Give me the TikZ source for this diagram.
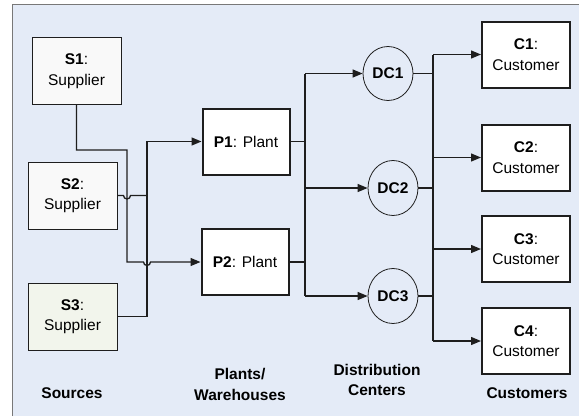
\documentclass[tikz,border=0pt]{standalone}
\usepackage{fontspec}
\setmainfont{Liberation Sans}
\usepackage{tikz}
\usetikzlibrary{arrows.meta,positioning,calc,shapes.geometric}
\usepackage{xcolor}
\definecolor{ink}{RGB}{30,30,30}
\definecolor{bg}{RGB}{228,235,247}
\definecolor{frm}{RGB}{120,120,120}
\definecolor{paper}{RGB}{249,249,249}
\definecolor{sage}{RGB}{242,245,236}
\tikzset{
  box/.style={draw=ink,align=center,inner sep=2pt,font=\fontsize{15.5}{20.5}\selectfont},
  src/.style={box,line width=0.8pt,fill=paper,minimum width=89pt,minimum height=67pt},
  plant/.style={box,line width=2pt,fill=white,minimum width=87pt,minimum height=66pt},
  cust/.style={box,line width=2pt,fill=white,minimum width=88pt,minimum height=66pt},
  dc/.style={ellipse,draw=ink,line width=0.8pt,fill=bg,inner sep=0pt,minimum width=50pt,
    minimum height=55pt,font=\fontsize{15.5}{18}\selectfont\bfseries},
  lnk/.style={line width=1.3pt,ink},
  arr/.style={lnk,-{Triangle[length=10pt,width=8pt]}},
  lbl/.style={align=center,font=\fontsize{15.5}{20.5}\selectfont\bfseries},
}
\begin{document}
\begin{tikzpicture}[x=1pt,y=-1pt]
  \useasboundingbox (0,0) rectangle (579,416);
  \fill[bg] (12,4) rectangle (579,416);
  \draw[frm,line width=1pt] (12,416) -- (12,4) -- (579,4);
  \node[src] (s1) at (76.5,71) {\textbf{S1}:\\Supplier};
  \node[src] (s2) at (72.5,195.5) {\textbf{S2}:\\Supplier};
  \node[src,fill=sage] (s3) at (72.5,316.5) {\textbf{S3}:\\Supplier};
  \node[plant] (p1) at (246,141.5) {\textbf{P1}: Plant};
  \node[plant] (p2) at (245,262) {\textbf{P2}: Plant};
  \node[dc,minimum height=54pt] (dc1) at (388,73.5) {DC1};
  \node[dc] (dc2) at (393,188) {DC2};
  \node[dc] (dc3) at (393,296) {DC3};
  \node[cust] (c1) at (526,54.5) {\textbf{C1}:\\Customer};
  \node[cust] (c2) at (526,157.5) {\textbf{C2}:\\Customer};
  \node[cust] (c3) at (526,249) {\textbf{C3}:\\Customer};
  \node[cust] (c4) at (526,341) {\textbf{C4}:\\Customer};
  \node[lbl] (ls) at (72,393) {Sources};
  \node[lbl] (lp) at (240,384.5) {Plants/\\Warehouses};
  \node[lbl] (ld) at (377,380) {Distribution\\Centers};
  \node[lbl] (lc) at (527,393) {Customers};
  \coordinate (b0) at (127,0);
  \coordinate (b1) at (147,0);
  \coordinate (b2) at (305,0);
  \coordinate (b3) at (433,0);
  \draw[arr] (s1.south) |- ($(b0)+(0,150)$) -- (b0 |- p2.west)
    -- ($(b1 |- p2.west)+(-3.5,0)$) arc[start angle=180,end angle=0,radius=3.5] -- (p2.west);
  \draw[lnk] (s2.east) -- ($(b0 |- s2.east)+(-3.5,0)$)
    arc[start angle=180,end angle=0,radius=3.5] -- (b1 |- s2.east);
  \draw[arr] (s3.east) -| (b1 |- p1.west) -- (p1.west);
  \draw[lnk] (p1.east) -- (b2 |- p1.east);
  \draw[lnk] (p2.east) -- (b2 |- p2.east);
  \draw[lnk] (b2 |- dc1.west) -- (b2 |- dc3.west);
  \draw[arr] (b2 |- dc1.west) -- (dc1.west);
  \draw[arr] (b2 |- dc2.west) -- (dc2.west);
  \draw[arr] (b2 |- dc3.west) -- (dc3.west);
  \draw[lnk] (dc1.east) -- (b3 |- dc1.east);
  \draw[lnk,line width=2pt] (dc2.east) -- (b3 |- dc2.east);
  \draw[lnk] (dc3.east) -- (b3 |- dc3.east);
  \draw[lnk] (b3 |- c1.west) -- (b3 |- c4.west);
  \draw[arr] (b3 |- c1.west) -- (c1.west);
  \draw[arr] (b3 |- c2.west) -- (c2.west);
  \draw[arr] (b3 |- c3.west) -- (c3.west);
  \draw[arr] (b3 |- c4.west) -- (c4.west);
\end{tikzpicture}
\end{document}
